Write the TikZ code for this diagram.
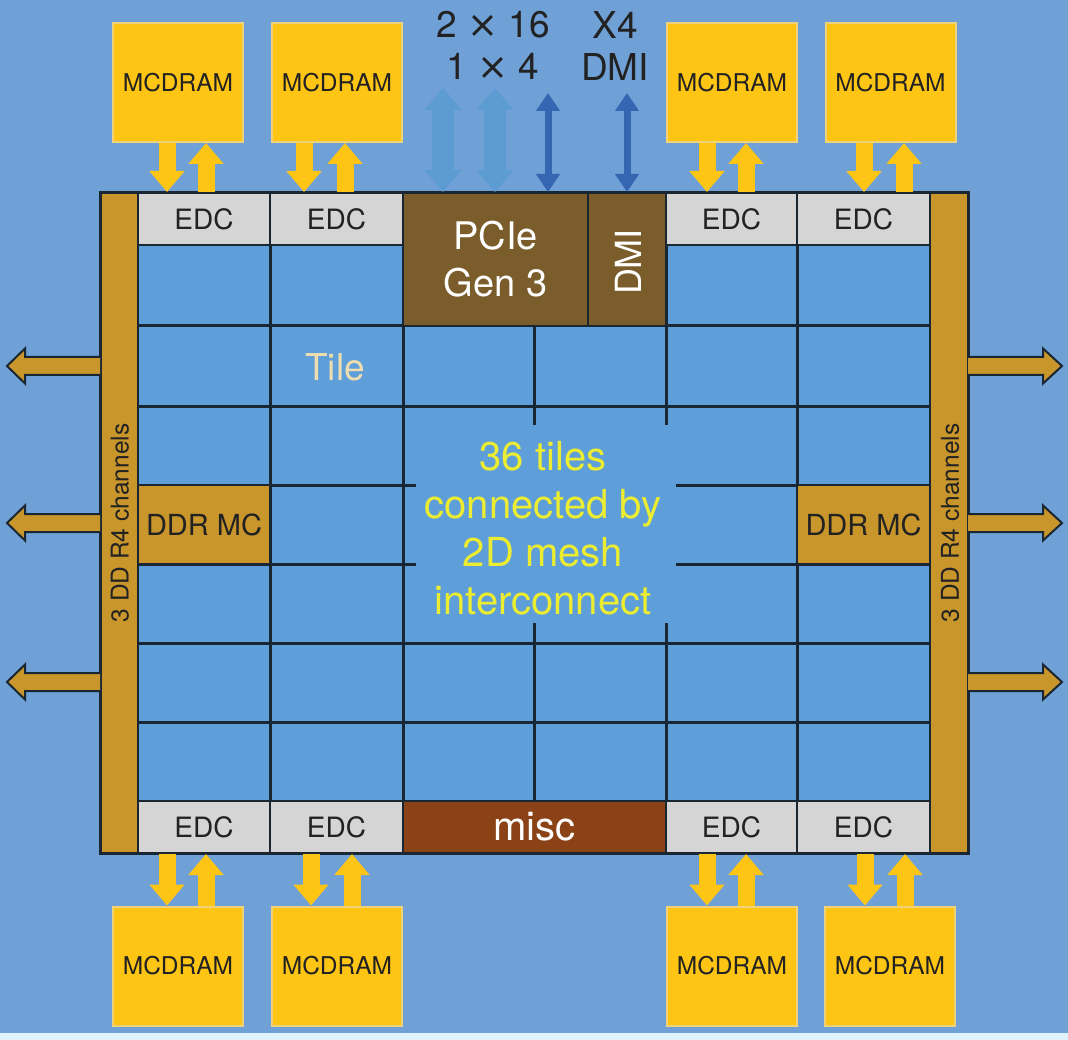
\documentclass[tikz,border=0pt]{standalone}
\usepackage{fontspec}
\setmainfont{TeX Gyre Heros}
\newfontfamily\symfnt{DejaVu Sans}
\usetikzlibrary{arrows.meta}
\definecolor{bgc}{HTML}{6FA0D6}
\definecolor{stripc}{HTML}{DDF2FB}
\definecolor{tilec}{HTML}{5E9FD9}
\definecolor{gridc}{HTML}{1B2633}
\definecolor{goldc}{HTML}{C9962C}
\definecolor{pciec}{HTML}{7A5D2B}
\definecolor{miscc}{HTML}{8B4216}
\definecolor{edcc}{HTML}{D5D5D5}
\definecolor{mcc}{HTML}{FFC514}
\definecolor{mcedge}{HTML}{EFD27A}
\definecolor{lbluec}{HTML}{5C9CD2}
\definecolor{dbluec}{HTML}{3566B2}
\definecolor{ytext}{HTML}{ECEC30}
\definecolor{tiletext}{HTML}{EEDDB0}
\definecolor{dtext}{HTML}{222222}
\begin{document}
\begin{tikzpicture}[x=1pt,y=-1pt,
  cellbox/.style={draw=gridc, line width=2pt, inner sep=0pt, anchor=center},
  edcbox/.style={cellbox, fill=edcc, text=dtext, minimum height=52pt, font=\fontsize{28}{32}\selectfont},
  mcbox/.style={fill=mcc, draw=mcedge, line width=2pt, inner sep=0pt, minimum width=130pt, minimum height=119pt, text=dtext, font=\fontsize{24.5}{28}\selectfont},
  ddrbox/.style={cellbox, fill=goldc, text=dtext, minimum height=79pt, font=\fontsize{29}{32}\selectfont},
  barbox/.style={draw=gridc, line width=2pt, fill=goldc, inner sep=0pt, minimum width=38pt, minimum height=660pt},
  bartext/.style={rotate=90, text=dtext, font=\fontsize{24.5}{28}\selectfont},
  gridline/.style={draw=gridc, line width=3pt},
  yarrow/.style={draw=mcc, line width=17pt, -{Triangle[width=34pt,length=21pt]}},
  bwide/.style={draw=lbluec, line width=22pt, {Triangle[width=36pt,length=22pt]}-{Triangle[width=36pt,length=22pt]}},
  bnarrow/.style={draw=dbluec, line width=7pt, {Triangle[width=23pt,length=18pt]}-{Triangle[width=23pt,length=18pt]}},
  garrow/.style={fill=goldc, draw=gridc, line width=2pt, line join=miter},
  toplabel/.style={text=dtext, font=\fontsize{37}{40}\selectfont, inner sep=0pt}
]
\useasboundingbox (0,0) rectangle (1068,1040);
\fill[bgc] (0,0) rectangle (1068,1040);
\fill[stripc] (0,1033) rectangle (1068,1040);

% tile area and mesh
\fill[tilec] (138,245) rectangle (930,801);
\foreach \x in {270,403,534,666,797} \draw[gridline] (\x,245) -- (\x,801);
\foreach \y in {245,326,406,485,564,643,722,801} \draw[gridline] (138,\y) -- (930,\y);

% side bars
\node[barbox] (lbar) at (119,523) {};
\node[barbox] (rbar) at (949,523) {};
\node[bartext] (lbartext) at (120,523) {3 DD R4 channels};
\node[bartext] (rbartext) at (950,523) {3 DD R4 channels};

% top row
\node[edcbox, minimum width=132pt] (e1) at (204,219) {EDC};
\node[edcbox, minimum width=133pt] (e2) at (336.5,219) {EDC};
\node[edcbox, minimum width=131pt] (e3) at (731.5,219) {EDC};
\node[edcbox, minimum width=133pt] (e4) at (863.5,219) {EDC};
\node[cellbox, fill=pciec, minimum width=185pt, minimum height=133pt, text=white, align=center,
      font=\fontsize{38}{47}\selectfont] (pcie) at (495.5,259.5) {PCIe\\Gen 3};
\node[cellbox, fill=pciec, minimum width=78pt, minimum height=133pt] (dmi) at (627,259.5) {};
\node[rotate=90, text=white, font=\fontsize{36}{40}\selectfont] (dmitext) at (628,262) {DMI};

% bottom row
\node[edcbox, minimum width=132pt] (b1) at (204,827) {EDC};
\node[edcbox, minimum width=133pt] (b2) at (336.5,827) {EDC};
\node[cellbox, fill=miscc, minimum width=263pt, minimum height=52pt, text=white,
      font=\fontsize{40}{44}\selectfont] (misc) at (534.5,827) {misc};
\node[edcbox, minimum width=131pt] (b3) at (731.5,827) {EDC};
\node[edcbox, minimum width=133pt] (b4) at (863.5,827) {EDC};

% DDR MC
\node[ddrbox, minimum width=132pt] (ddrl) at (204,524.5) {DDR MC};
\node[ddrbox, minimum width=133pt] (ddrr) at (863.5,524.5) {DDR MC};

% chip outline
\draw[gridc, line width=3pt] (100,193) rectangle (968,853);

% center text box
\node[fill=tilec, minimum width=260pt, minimum height=198pt, inner sep=0pt] (cbox) at (546,524) {};
\node[text=ytext, align=center, font=\fontsize{40}{48}\selectfont] (ctext) at (543,528)
  {36 tiles\\connected by\\2D mesh\\interconnect};
\node[text=tiletext, font=\fontsize{37}{40}\selectfont] (tile) at (335,367) {Tile};

% MCDRAM
\node[mcbox] (mt1) at (178,82.5) {MCDRAM};
\node[mcbox] (mt2) at (337,82.5) {MCDRAM};
\node[mcbox] (mt3) at (732,82.5) {MCDRAM};
\node[mcbox] (mt4) at (890.5,82.5) {MCDRAM};
\node[mcbox] (mb1) at (178,966) {MCDRAM};
\node[mcbox] (mb2) at (337,966) {MCDRAM};
\node[mcbox] (mb3) at (732,966) {MCDRAM};
\node[mcbox] (mb4) at (890,966) {MCDRAM};

% yellow arrows top
\draw[yarrow] ([xshift=-11pt]mt1.south) -- ([xshift=-11pt]mt1.south |- e1.north);
\draw[yarrow] ([xshift=28pt]mt1.south |- e1.north) -- ([xshift=28pt]mt1.south);
\draw[yarrow] ([xshift=-33pt]mt2.south) -- ([xshift=-33pt]mt2.south |- e2.north);
\draw[yarrow] ([xshift=8pt]mt2.south |- e2.north) -- ([xshift=8pt]mt2.south);
\draw[yarrow] ([xshift=-25pt]mt3.south) -- ([xshift=-25pt]mt3.south |- e3.north);
\draw[yarrow] ([xshift=14pt]mt3.south |- e3.north) -- ([xshift=14pt]mt3.south);
\draw[yarrow] ([xshift=-26.5pt]mt4.south) -- ([xshift=-26.5pt]mt4.south |- e4.north);
\draw[yarrow] ([xshift=13.5pt]mt4.south |- e4.north) -- ([xshift=13.5pt]mt4.south);

% yellow arrows bottom
\draw[yarrow] ([xshift=-37pt]b1.south) -- ([xshift=-37pt]b1.south |- mb1.north);
\draw[yarrow] ([xshift=2pt]b1.south |- mb1.north) -- ([xshift=2pt]b1.south);
\draw[yarrow] ([xshift=-25.5pt]b2.south) -- ([xshift=-25.5pt]b2.south |- mb2.north);
\draw[yarrow] ([xshift=15.5pt]b2.south |- mb2.north) -- ([xshift=15.5pt]b2.south);
\draw[yarrow] ([xshift=-24.5pt]b3.south) -- ([xshift=-24.5pt]b3.south |- mb3.north);
\draw[yarrow] ([xshift=14.5pt]b3.south |- mb3.north) -- ([xshift=14.5pt]b3.south);
\draw[yarrow] ([xshift=1.5pt]b4.south) -- ([xshift=1.5pt]b4.south |- mb4.north);
\draw[yarrow] ([xshift=41.5pt]b4.south |- mb4.north) -- ([xshift=41.5pt]b4.south);

% blue I/O arrows
\coordinate (io1) at (443,88);
\coordinate (io2) at (495,88);
\coordinate (io3) at (548,93);
\coordinate (io4) at (627,93);
\draw[bwide] (io1) -- (io1 |- pcie.north);
\draw[bwide] (io2) -- (io2 |- pcie.north);
\draw[bnarrow] (io3) -- (io3 |- pcie.north);
\draw[bnarrow] (io4) -- (io4 |- dmi.north);

\node[toplabel] (l216) at (493,25) {2 {\symfnt ×} 16};
\node[toplabel] (l14) at (493,66) {1 {\symfnt ×} 4};
\node[toplabel] (lx4) at (615,25) {X4};
\node[toplabel] (ldmi) at (615,67) {DMI};

% DDR channel arrows
\foreach \c in {366,523,682} {
  \draw[garrow] (100,\c-9) -- (25,\c-9) -- (25,\c-17.5) -- (7,\c) -- (25,\c+17.5) -- (25,\c+9) -- (100,\c+9);
  \draw[garrow] (968,\c-9) -- (1043,\c-9) -- (1043,\c-17.5) -- (1062,\c) -- (1043,\c+17.5) -- (1043,\c+9) -- (968,\c+9);
}
\end{tikzpicture}
\end{document}
